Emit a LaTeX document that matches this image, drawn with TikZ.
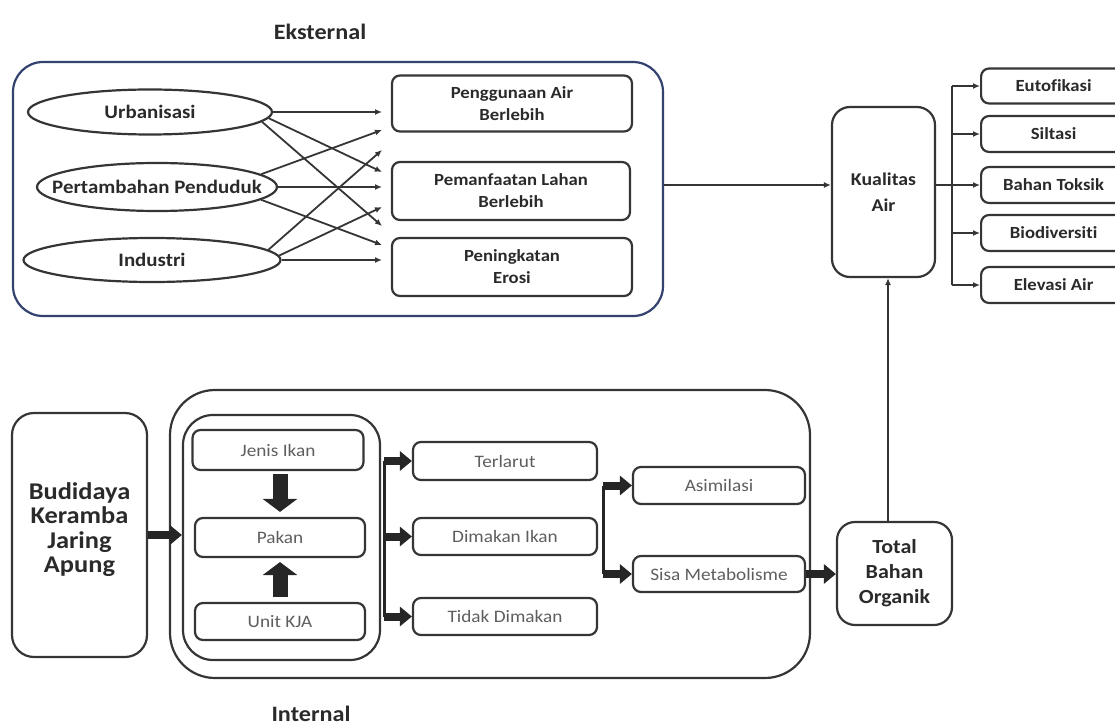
\documentclass[tikz,border=0pt]{standalone}
\usepackage{fontspec}
\setmainfont{Carlito}[FakeStretch=1.1,Ligatures=NoCommon]
\usetikzlibrary{shapes.geometric,arrows.meta}
\definecolor{ln}{HTML}{353535}
\definecolor{navy}{HTML}{34426F}
\definecolor{gtxt}{HTML}{5E5E5E}
\definecolor{dtxt}{HTML}{2A2A2A}
\begin{document}
\begin{tikzpicture}[x=1pt,y=-1pt,
  box/.style={draw=ln, line width=2.2pt, rounded corners=8pt, inner sep=0pt, align=center},
  bigbox/.style={draw=ln, line width=2.2pt, inner sep=0pt, align=center},
  ell/.style={ellipse, draw=ln, line width=2.2pt, inner sep=0pt, font=\fontsize{19}{23}\selectfont\bfseries, text=dtxt},
  etxt/.style={font=\fontsize{17}{22}\selectfont\bfseries, text=dtxt},
  itxt/.style={font=\fontsize{17.5}{21}\selectfont, text=gtxt},
  conn/.style={draw=ln, line width=1.8pt, -{Latex[length=7pt,width=6pt]}},
  plain/.style={draw=ln, line width=1.8pt},
  bline/.style={draw=black!85, line width=3pt},
  fat/.style={draw=black!85, line width=8pt, -{Triangle[width=19pt,length=12pt]}},
  fatv/.style={draw=black!85, line width=15pt, -{Triangle[width=34pt,length=13pt]}},
  title/.style={font=\fontsize{22}{26}\selectfont\bfseries, text=dtxt}
]
\useasboundingbox (0,0) rectangle (1115,727);
\clip (0,0) rectangle (1115,727);

% ---------- external ----------
\node[title] (ekst) at (320,32) {Eksternal};
\node[draw=navy, line width=2.2pt, rounded corners=30pt, minimum width=650pt, minimum height=254pt] (ext) at (338,189) {};

\node[ell, minimum width=244pt, minimum height=45pt] (urb) at (150,112) {\makebox[0pt]{Urbanisasi}};
\node[ell, minimum width=240pt, minimum height=48pt] (pert) at (157,187) {\makebox[0pt]{Pertambahan Penduduk}};
\node[ell, minimum width=257pt, minimum height=44pt] (ind) at (152,260) {\makebox[0pt]{Industri}};

\node[box, etxt, minimum width=240pt, minimum height=56pt] (pa) at (512,103.5) {Penggunaan Air\\Berlebih};
\node[box, etxt, minimum width=238pt, minimum height=58pt] (pl) at (511,191) {Pemanfaatan Lahan\\Berlebih};
\node[box, etxt, minimum width=240pt, minimum height=58pt] (pe) at (512,267) {Peningkatan\\Erosi};

\coordinate (e1) at (382,112);
\coordinate (e2) at (382,130);
\coordinate (e3) at (382,150);
\coordinate (e4) at (382,172);
\coordinate (e5) at (382,187);
\coordinate (e6) at (382,207);
\coordinate (e7) at (382,226);
\coordinate (e8) at (382,245);
\coordinate (e9) at (382,260);

\draw[conn] (urb.east) -- (e1);
\draw[conn] (urb.-3) -- (e4);
\draw[conn] (urb.-5) -- (e7);
\draw[conn] (pert.7) -- (e2);
\draw[conn] (pert.east) -- (e5);
\draw[conn] (pert.-7.5) -- (e8);
\draw[conn] (ind.5) -- (e3);
\draw[conn] (ind.2.5) -- (e6);
\draw[conn] (ind.east) -- (e9);

% ---------- kualitas ----------
\node[box, rounded corners=18pt, font=\fontsize{18}{26}\selectfont\bfseries, text=dtxt, minimum width=103pt, minimum height=170pt] (kual) at (883.5,192) {Kualitas\\Air};

\node[box, etxt, anchor=west, minimum width=145pt, minimum height=35pt] (eut) at (980,86) {Eutofikasi};
\node[box, etxt, anchor=west, minimum width=145pt, minimum height=36pt] (silt) at (980,134) {Siltasi};
\node[box, etxt, anchor=west, minimum width=145pt, minimum height=36pt] (toks) at (980,185) {Bahan Toksik};
\node[box, etxt, anchor=west, minimum width=145pt, minimum height=36pt] (bio) at (980,233) {Biodiversiti};
\node[box, etxt, anchor=west, minimum width=145pt, minimum height=36pt] (elev) at (980,285) {Elevasi Air};

\coordinate (k1) at (663,185);
\draw[conn] (ext.east |- k1) -- (kual.west |- k1);
\coordinate (kb) at (952,185);
\draw[plain] (kual.east |- kb) -- (kb);
\draw[plain] (kb |- eut.west) -- (kb |- elev.west);
\draw[conn] (kb |- eut.west) -- (eut.west);
\draw[conn] (kb |- silt.west) -- (silt.west);
\draw[conn] (kb |- toks.west) -- (toks.west);
\draw[conn] (kb |- bio.west) -- (bio.west);
\draw[conn] (kb |- elev.west) -- (elev.west);

% ---------- internal ----------
\node[bigbox, rounded corners=22pt, minimum width=135pt, minimum height=244pt, font=\fontsize{24}{24.5}\selectfont\bfseries, text=dtxt] (budi) at (79.5,535) {Budidaya\\Keramba\\Jaring\\Apung\\[-10pt]};
\node[bigbox, rounded corners=45pt, minimum width=640pt, minimum height=288pt] (intb) at (490,534) {};
\node[bigbox, rounded corners=30pt, minimum width=197pt, minimum height=245pt] (inner) at (281.5,537.5) {};

\node[box, itxt, minimum width=171pt, minimum height=40pt] (jenis) at (278,450) {Jenis Ikan};
\node[box, itxt, minimum width=170pt, minimum height=39pt] (pakan) at (280,537.5) {Pakan};
\node[box, itxt, minimum width=170pt, minimum height=37pt] (unit) at (280,621.5) {Unit KJA};

\node[box, itxt, minimum width=184pt, minimum height=38pt] (terl) at (505,461) {Terlarut};
\node[box, itxt, minimum width=184pt, minimum height=37pt] (dima) at (505,536.5) {Dimakan Ikan};
\node[box, itxt, minimum width=184pt, minimum height=37pt] (tida) at (505,616.5) {Tidak Dimakan};

\node[box, itxt, minimum width=172pt, minimum height=37pt] (asim) at (719,485.5) {Asimilasi};
\node[box, itxt, minimum width=172pt, minimum height=36pt] (sisa) at (719,574) {Sisa Metabolisme};

\node[box, rounded corners=18pt, font=\fontsize{20}{25}\selectfont\bfseries, text=dtxt, minimum width=115pt, minimum height=103pt] (total) at (894.5,573.5) {Total\\Bahan\\Organik};

\node[title] (intl) at (311,714) {Internal};

\draw[fat] (budi.east) -- (budi.east -| inner.west);
\draw[fatv, shorten <=3pt, shorten >=5pt] (jenis.south -| pakan.north) -- (pakan.north);
\draw[fatv, shorten <=5pt, shorten >=4pt] (unit.north) -- (pakan.south);

\coordinate (b1) at (384,0);
\draw[bline] (b1 |- terl.west) -- (b1 |- tida.west);
\draw[fat] (b1 |- terl.west) -- (terl.west);
\draw[fat] (b1 |- dima.west) -- (dima.west);
\draw[fat] (b1 |- tida.west) -- (tida.west);

\coordinate (b2) at (603,0);
\draw[bline] (b2 |- asim.west) -- (b2 |- sisa.west);
\draw[fat] (b2 |- asim.west) -- (asim.west);
\draw[fat] (b2 |- sisa.west) -- (sisa.west);

\draw[fat] (sisa.east) -- (sisa.east -| total.west);

\coordinate (tk) at (888,0);
\draw[conn] (total.north -| tk) -- (kual.south -| tk);
\end{tikzpicture}
\end{document}
